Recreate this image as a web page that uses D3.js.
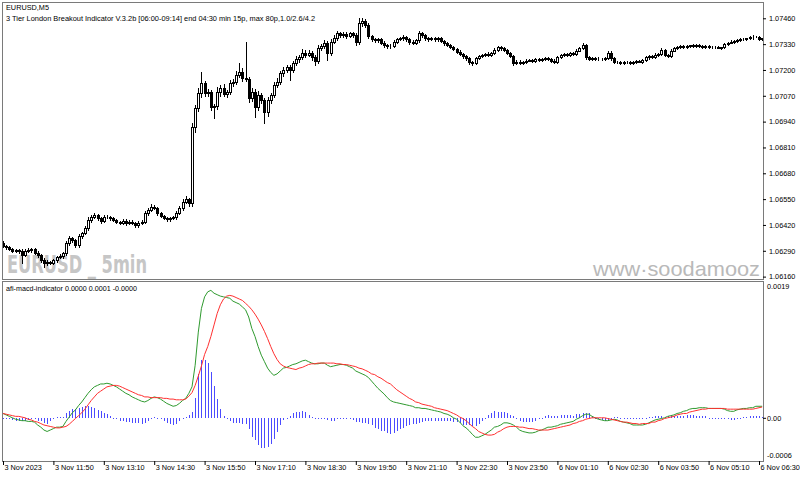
<!DOCTYPE html>
<html>
<head>
<meta charset="utf-8">
<script src="https://cdn.jsdelivr.net/npm/d3@7"></script>
<style>
body { margin: 0; background: #fff; }
svg { display: block; }
text { font-family: "Liberation Sans", Arial, sans-serif; }
</style>
</head>
<body>
<svg width="800" height="477"></svg>
<script>
// EURUSD M5 closes, one per bar (open = previous close)
const firstOpen = 1.06330;
const closes = [
 1.06314,1.06308,1.06298,1.06291,1.06294,1.06289,1.06269,1.06291,1.06294,1.06298,
 1.06281,1.06269,1.06244,1.06227,1.06236,1.06231,1.06244,1.06258,1.06264,1.06278,
 1.06328,1.06353,1.06344,1.06319,1.06365,1.06378,1.06404,1.06445,1.06462,1.06471,
 1.06454,1.06442,1.06459,1.06462,1.06454,1.06445,1.06437,1.06432,1.06442,1.06432,
 1.06437,1.06429,1.06420,1.06432,1.06437,1.06479,1.06496,1.06512,1.06504,1.06479,
 1.06466,1.06454,1.06449,1.06454,1.06459,1.06482,1.06504,1.06538,1.06549,1.06529,
 1.06915,1.07007,1.07083,1.07133,1.07083,1.07091,1.07016,1.07019,1.07091,1.07108,
 1.07080,1.07091,1.07133,1.07141,1.07175,1.07192,1.07158,1.07153,1.07057,1.07091,
 1.07016,1.07074,1.07049,1.06990,1.07049,1.07074,1.07125,1.07141,1.07183,1.07200,
 1.07217,1.07200,1.07234,1.07254,1.07267,1.07284,1.07276,1.07287,1.07267,1.07247,
 1.07309,1.07321,1.07334,1.07284,1.07343,1.07359,1.07385,1.07376,1.07381,1.07371,
 1.07385,1.07376,1.07343,1.07435,1.07448,1.07426,1.07371,1.07354,1.07351,1.07354,
 1.07338,1.07326,1.07321,1.07321,1.07343,1.07354,1.07359,1.07364,1.07354,1.07343,
 1.07338,1.07351,1.07385,1.07376,1.07359,1.07354,1.07359,1.07354,1.07359,1.07348,
 1.07334,1.07326,1.07317,1.07304,1.07292,1.07281,1.07270,1.07259,1.07242,1.07234,
 1.07259,1.07270,1.07276,1.07281,1.07276,1.07284,1.07301,1.07314,1.07309,1.07301,
 1.07287,1.07270,1.07234,1.07242,1.07237,1.07242,1.07247,1.07250,1.07247,1.07254,
 1.07250,1.07254,1.07259,1.07254,1.07247,1.07242,1.07264,1.07276,1.07281,1.07276,
 1.07284,1.07281,1.07297,1.07309,1.07326,1.07264,1.07254,1.07259,1.07254,1.07257,
 1.07254,1.07259,1.07287,1.07259,1.07242,1.07242,1.07237,1.07240,1.07242,1.07237,
 1.07242,1.07245,1.07242,1.07250,1.07264,1.07270,1.07267,1.07276,1.07281,1.07301,
 1.07276,1.07270,1.07297,1.07309,1.07317,1.07321,1.07317,1.07321,1.07324,1.07321,
 1.07326,1.07321,1.07317,1.07321,1.07317,1.07314,1.07317,1.07312,1.07314,1.07331,
 1.07338,1.07343,1.07348,1.07351,1.07354,1.07356,1.07359,1.07364,1.07368,1.07368,
 1.07354,1.07359
];
// wicks in points (0.00001) above / below the body
const wickHi = [
 8,5,6,4,7,5,10,6,8,5,4,6,5,8,6,5,7,6,8,5,
 10,12,8,6,10,8,12,15,8,10,6,8,10,6,5,8,6,5,8,6,
 6,8,5,10,8,12,10,15,10,6,8,5,6,8,5,6,10,12,15,8,
 20,15,25,59,12,15,10,8,25,15,20,10,15,12,20,45,20,185,10,20,
 15,20,10,12,15,10,15,20,12,15,10,8,12,15,10,20,15,12,10,8,
 15,12,15,10,12,15,10,8,12,10,8,6,10,25,15,10,8,6,8,6,
 8,6,5,8,10,6,8,10,6,5,8,6,12,8,6,5,8,6,5,6,
 5,6,5,6,5,6,5,4,6,5,8,6,5,6,8,6,10,8,6,5,
 6,5,4,8,6,5,6,5,4,6,5,4,6,5,8,6,5,6,5,4,
 6,5,6,8,10,6,5,4,5,6,5,4,8,6,5,4,5,6,4,5,
 4,5,6,5,6,5,6,8,6,10,6,5,8,6,5,4,5,6,4,5,
 6,5,4,5,6,4,5,6,4,6,5,6,5,4,5,6,4,5,6,4,5,4
];
const wickLo = [
 6,8,5,6,5,8,42,6,5,8,6,8,10,17,8,10,6,8,5,8,
 8,10,8,12,8,10,6,8,10,6,8,10,6,5,8,6,5,8,6,10,
 8,6,10,8,6,8,10,8,6,10,8,6,10,8,6,8,6,10,8,12,
 15,25,15,20,15,12,20,59,15,20,12,15,10,15,12,10,15,10,20,15,
 51,20,15,58,20,15,10,12,10,15,10,50,12,10,15,12,10,8,15,20,
 12,10,8,34,10,8,10,12,8,10,6,10,15,10,12,8,10,6,8,10,
 8,10,12,8,6,8,5,6,8,10,8,6,8,10,6,8,5,6,8,5,
 6,5,8,6,5,6,8,10,12,10,6,5,6,5,6,8,5,6,8,6,
 5,6,8,6,5,8,5,4,6,5,4,6,5,4,8,6,5,4,6,5,
 5,6,5,4,6,8,5,6,4,5,6,5,6,10,5,6,5,8,6,5,
 6,5,4,6,5,8,6,5,4,6,8,6,5,4,6,5,4,6,5,4,
 5,4,6,5,4,6,5,4,6,5,6,4,5,6,4,5,4,5,6,4,5,4
];
// afi-macd main (green) and signal (red)
const macdMain = [
 0.00006,0.00004,0.00002,0.00000,-0.00002,-0.00003,-0.00004,-0.00004,-0.00005,-0.00005,
 -0.00006,-0.00010,-0.00013,-0.00017,-0.00019,-0.00017,-0.00015,-0.00013,-0.00013,-0.00012,
 -0.00005,0.00001,0.00007,0.00011,0.00017,0.00022,0.00028,0.00034,0.00039,0.00043,
 0.00045,0.00047,0.00047,0.00048,0.00047,0.00045,0.00043,0.00040,0.00037,0.00034,
 0.00032,0.00029,0.00027,0.00025,0.00023,0.00022,0.00024,0.00027,0.00029,0.00028,
 0.00026,0.00023,0.00020,0.00018,0.00016,0.00017,0.00020,0.00024,0.00027,0.00034,
 0.00043,0.00073,0.00119,0.00152,0.00168,0.00175,0.00177,0.00173,0.00171,0.00169,
 0.00168,0.00167,0.00166,0.00162,0.00160,0.00158,0.00154,0.00150,0.00140,0.00124,
 0.00113,0.00099,0.00087,0.00078,0.00069,0.00063,0.00059,0.00061,0.00065,0.00069,
 0.00070,0.00072,0.00074,0.00075,0.00077,0.00079,0.00080,0.00078,0.00076,0.00075,
 0.00075,0.00076,0.00076,0.00073,0.00071,0.00072,0.00073,0.00074,0.00074,0.00073,
 0.00071,0.00069,0.00065,0.00063,0.00061,0.00059,0.00056,0.00051,0.00046,0.00041,
 0.00037,0.00033,0.00028,0.00024,0.00022,0.00021,0.00020,0.00019,0.00018,0.00017,
 0.00016,0.00014,0.00014,0.00013,0.00013,0.00012,0.00011,0.00010,0.00009,0.00008,
 0.00006,0.00005,0.00003,0.00000,-0.00002,-0.00006,-0.00011,-0.00014,-0.00018,-0.00023,
 -0.00027,-0.00027,-0.00025,-0.00023,-0.00020,-0.00017,-0.00013,-0.00012,-0.00010,-0.00007,
 -0.00007,-0.00008,-0.00010,-0.00013,-0.00017,-0.00019,-0.00020,-0.00021,-0.00021,-0.00020,
 -0.00018,-0.00017,-0.00015,-0.00013,-0.00013,-0.00012,-0.00011,-0.00009,-0.00008,-0.00007,
 -0.00006,-0.00005,-0.00002,0.00000,0.00003,0.00005,0.00005,0.00002,0.00000,-0.00002,
 -0.00003,-0.00004,-0.00004,-0.00003,-0.00002,-0.00003,-0.00005,-0.00006,-0.00007,-0.00008,
 -0.00010,-0.00010,-0.00010,-0.00010,-0.00009,-0.00007,-0.00005,-0.00003,-0.00002,-0.00001,
 0.00000,0.00002,0.00003,0.00004,0.00006,0.00007,0.00009,0.00010,0.00012,0.00013,
 0.00013,0.00014,0.00014,0.00014,0.00013,0.00013,0.00013,0.00013,0.00013,0.00012,
 0.00010,0.00009,0.00009,0.00011,0.00012,0.00013,0.00013,0.00014,0.00014,0.00016,
 0.00016,0.00016
];
const macdSignal = [
 0.00006,0.00005,0.00004,0.00003,0.00002,0.00002,0.00001,0.00000,-0.00002,-0.00003,
 -0.00005,-0.00006,-0.00008,-0.00010,-0.00011,-0.00012,-0.00013,-0.00014,-0.00014,-0.00013,
 -0.00012,-0.00009,-0.00005,-0.00001,0.00003,0.00007,0.00012,0.00018,0.00024,0.00029,
 0.00034,0.00037,0.00040,0.00043,0.00044,0.00045,0.00045,0.00044,0.00042,0.00040,
 0.00038,0.00036,0.00034,0.00032,0.00031,0.00029,0.00029,0.00028,0.00028,0.00028,
 0.00028,0.00027,0.00027,0.00026,0.00026,0.00025,0.00025,0.00025,0.00026,0.00030,
 0.00035,0.00045,0.00058,0.00072,0.00088,0.00099,0.00113,0.00129,0.00145,0.00157,
 0.00165,0.00169,0.00170,0.00169,0.00167,0.00165,0.00163,0.00159,0.00155,0.00150,
 0.00144,0.00137,0.00129,0.00120,0.00110,0.00099,0.00089,0.00081,0.00075,0.00072,
 0.00070,0.00069,0.00068,0.00067,0.00069,0.00070,0.00072,0.00074,0.00075,0.00075,
 0.00076,0.00076,0.00076,0.00076,0.00076,0.00076,0.00075,0.00075,0.00074,0.00074,
 0.00073,0.00072,0.00071,0.00069,0.00068,0.00066,0.00064,0.00061,0.00060,0.00057,
 0.00055,0.00052,0.00049,0.00047,0.00043,0.00039,0.00036,0.00033,0.00030,0.00027,
 0.00025,0.00022,0.00021,0.00019,0.00018,0.00017,0.00016,0.00014,0.00013,0.00012,
 0.00011,0.00010,0.00008,0.00006,0.00004,0.00001,-0.00001,-0.00004,-0.00008,-0.00012,
 -0.00015,-0.00019,-0.00021,-0.00023,-0.00024,-0.00024,-0.00023,-0.00020,-0.00018,-0.00015,
 -0.00013,-0.00012,-0.00012,-0.00012,-0.00013,-0.00013,-0.00014,-0.00015,-0.00015,-0.00016,
 -0.00017,-0.00017,-0.00017,-0.00017,-0.00016,-0.00015,-0.00014,-0.00013,-0.00012,-0.00011,
 -0.00010,-0.00008,-0.00007,-0.00005,-0.00004,-0.00002,-0.00001,0.00000,0.00000,0.00000,
 0.00000,0.00000,-0.00001,-0.00002,-0.00003,-0.00004,-0.00005,-0.00006,-0.00006,-0.00007,
 -0.00008,-0.00008,-0.00009,-0.00008,-0.00008,-0.00008,-0.00006,-0.00006,-0.00004,-0.00003,
 -0.00001,0.00000,0.00001,0.00002,0.00004,0.00005,0.00006,0.00006,0.00008,0.00009,
 0.00010,0.00011,0.00012,0.00012,0.00013,0.00013,0.00013,0.00013,0.00013,0.00013,
 0.00012,0.00012,0.00012,0.00012,0.00012,0.00012,0.00012,0.00012,0.00012,0.00013,
 0.00014,0.00015
];
const priceTicks = [1.06160,1.06290,1.06420,1.06550,1.06680,1.06810,1.06940,1.07070,1.07200,1.07330,1.07460];
const macdTicks = [0.0019, 0, -0.0006];
const macdTickText = ['0.0019', '0.00', '-0.0006'];
const tickBars = [0,16,32,48,64,80,96,112,128,144,160,176,192,208,224,240];
const timeLabels = ['3 Nov 2023','3 Nov 11:50','3 Nov 13:10','3 Nov 14:30','3 Nov 15:50','3 Nov 17:10',
  '3 Nov 18:30','3 Nov 19:50','3 Nov 21:10','3 Nov 22:30','3 Nov 23:50','6 Nov 01:10',
  '6 Nov 02:30','6 Nov 03:50','6 Nov 05:10','6 Nov 06:30'];

const left = 2, right = 763;
const top1 = 2, bot1 = 279, top2 = 281, bot2 = 461;

const svg = d3.select('svg');

const x = d3.scaleLinear().domain([0, 240]).range([3, 759]);
const yP = d3.scaleLinear().domain([1.06148, 1.07542]).range([bot1, top1]);
const yM = d3.scaleLinear().domain([-0.0006, 0.0019]).range([bot2, top2]);

const defs = svg.append('defs');
defs.append('clipPath').attr('id', 'c1').append('rect')
    .attr('x', left + 1).attr('y', top1 + 1).attr('width', right - left - 1).attr('height', bot1 - top1 - 1);
defs.append('clipPath').attr('id', 'c2').append('rect')
    .attr('x', left + 1).attr('y', top2 + 1).attr('width', right - left - 1).attr('height', bot2 - top2 - 1);

// watermarks (behind the candles)
svg.append('text')
    .attr('x', 7).attr('y', 273)
    .attr('textLength', 140).attr('lengthAdjust', 'spacingAndGlyphs')
    .style('font-family', '"Liberation Sans Narrow", "DejaVu Sans Condensed", "Liberation Sans", sans-serif')
    .style('font-weight', 'bold').style('font-size', '25px')
    .attr('fill', '#c6c6c6')
    .text('EURUSD _ 5min');

svg.append('text')
    .attr('x', 593).attr('y', 276)
    .attr('textLength', 167).attr('lengthAdjust', 'spacingAndGlyphs')
    .style('font-size', '21px')
    .attr('fill', '#b9b9b9')
    .text('www\u00b7soodamooz');

// candles
const bars = closes.map((c, i) => {
    const o = i ? closes[i - 1] : firstOpen;
    return { i, o, c,
        h: Math.max(o, c) + wickHi[i] / 1e5,
        l: Math.min(o, c) - wickLo[i] / 1e5 };
});

const g1 = svg.append('g').attr('clip-path', 'url(#c1)');

g1.selectAll('line.wick')
    .data(bars)
    .enter()
    .append('line')
    .attr('class', 'wick')
    .attr('x1', d => Math.round(x(d.i)) + 0.5)
    .attr('x2', d => Math.round(x(d.i)) + 0.5)
    .attr('y1', d => Math.round(yP(d.h)))
    .attr('y2', d => Math.round(yP(d.l)) + 1)
    .attr('stroke', '#000')
    .attr('stroke-width', 1);

g1.selectAll('rect.body')
    .data(bars)
    .enter()
    .append('rect')
    .attr('class', 'body')
    .attr('x', d => Math.round(x(d.i)) - 0.5)
    .attr('y', d => Math.round(yP(Math.max(d.o, d.c))) + 0.5)
    .attr('width', 2)
    .attr('height', d => Math.max(0, Math.round(yP(Math.min(d.o, d.c))) - Math.round(yP(Math.max(d.o, d.c)))))
    .attr('fill', d => d.c >= d.o ? '#fff' : '#000')
    .attr('stroke', '#000')
    .attr('stroke-width', 1);

// MACD panel
const g2 = svg.append('g').attr('clip-path', 'url(#c2)');
const y0 = Math.round(yM(0));

g2.selectAll('rect.hist')
    .data(macdMain.map((m, i) => ({ i, v: m - macdSignal[i] })))
    .enter()
    .append('rect')
    .attr('class', 'hist')
    .attr('x', d => Math.round(x(d.i)))
    .attr('y', d => Math.min(y0, Math.round(yM(d.v))))
    .attr('width', 1)
    .attr('height', d => Math.max(1, Math.abs(Math.round(yM(d.v)) - y0)))
    .attr('fill', '#4b4bff');

const line = d3.line()
    .x((d, i) => x(i))
    .y(d => yM(d));

g2.append('path')
    .datum(macdMain)
    .attr('d', line)
    .attr('fill', 'none')
    .attr('stroke', '#2f9a2f')
    .attr('stroke-width', 1);

g2.append('path')
    .datum(macdSignal)
    .attr('d', line)
    .attr('fill', 'none')
    .attr('stroke', '#ff3030')
    .attr('stroke-width', 1);

// frames
const frame = '#7a7a7a';
svg.append('rect')
    .attr('x', left + 0.5).attr('y', top1 + 0.5)
    .attr('width', right - left).attr('height', bot1 - top1)
    .attr('fill', 'none').attr('stroke', frame);
svg.append('rect')
    .attr('x', left + 0.5).attr('y', top2 + 0.5)
    .attr('width', right - left).attr('height', bot2 - top2)
    .attr('fill', 'none').attr('stroke', frame);

// axes
const fontSize = '7.3px';

const axP = svg.append('g')
    .attr('transform', `translate(${right}, 0)`)
    .call(d3.axisRight(yP).tickValues(priceTicks).tickSize(3).tickPadding(3).tickFormat(d3.format('.5f')));
axP.select('.domain').remove();
axP.selectAll('text').style('font-size', fontSize).style('font-family', '"Liberation Sans", Arial, sans-serif').attr('fill', '#000');
axP.selectAll('line').attr('stroke', '#000');

const axM = svg.append('g')
    .attr('transform', `translate(${right}, 0)`)
    .call(d3.axisRight(yM).tickValues(macdTicks).tickSize(3).tickPadding(1)
        .tickFormat((d, i) => macdTickText[i]));
axM.select('.domain').remove();
axM.selectAll('text').style('font-size', fontSize).style('font-family', '"Liberation Sans", Arial, sans-serif').attr('fill', '#000')
    .attr('dy', (d, i) => i === 0 ? '1.05em' : (i === 2 ? '-0.55em' : '0.32em'));
axM.selectAll('line').attr('stroke', (d, i) => i === 1 ? '#000' : 'none');

const axT = svg.append('g')
    .attr('transform', `translate(0, ${bot2})`)
    .call(d3.axisBottom(x).tickValues(tickBars).tickSize(4).tickPadding(0)
        .tickFormat((d, i) => timeLabels[i]));
axT.select('.domain').remove();
axT.selectAll('text').style('font-size', fontSize).style('font-family', '"Liberation Sans", Arial, sans-serif')
    .attr('fill', '#000').attr('text-anchor', 'start').attr('x', 1);
axT.selectAll('line').attr('stroke', '#000');

// titles
svg.append('text').attr('x', 6).attr('y', 10)
    .attr('textLength', 43).attr('lengthAdjust', 'spacingAndGlyphs')
    .style('font-size', fontSize).attr('fill', '#000')
    .text('EURUSD,M5');
svg.append('text').attr('x', 6).attr('y', 20.5)
    .attr('textLength', 309).attr('lengthAdjust', 'spacingAndGlyphs')
    .style('font-size', fontSize).attr('fill', '#000')
    .text('3 Tier London Breakout Indicator V.3.2b [06:00-09:14] end 04:30 min 15p, max 80p,1.0/2.6/4.2');
svg.append('text').attr('x', 6).attr('y', 290.5)
    .attr('textLength', 131).attr('lengthAdjust', 'spacingAndGlyphs')
    .style('font-size', fontSize).attr('fill', '#000')
    .text('afi-macd-indicator 0.0000 0.0001 -0.0000');
</script>
</body>
</html>
